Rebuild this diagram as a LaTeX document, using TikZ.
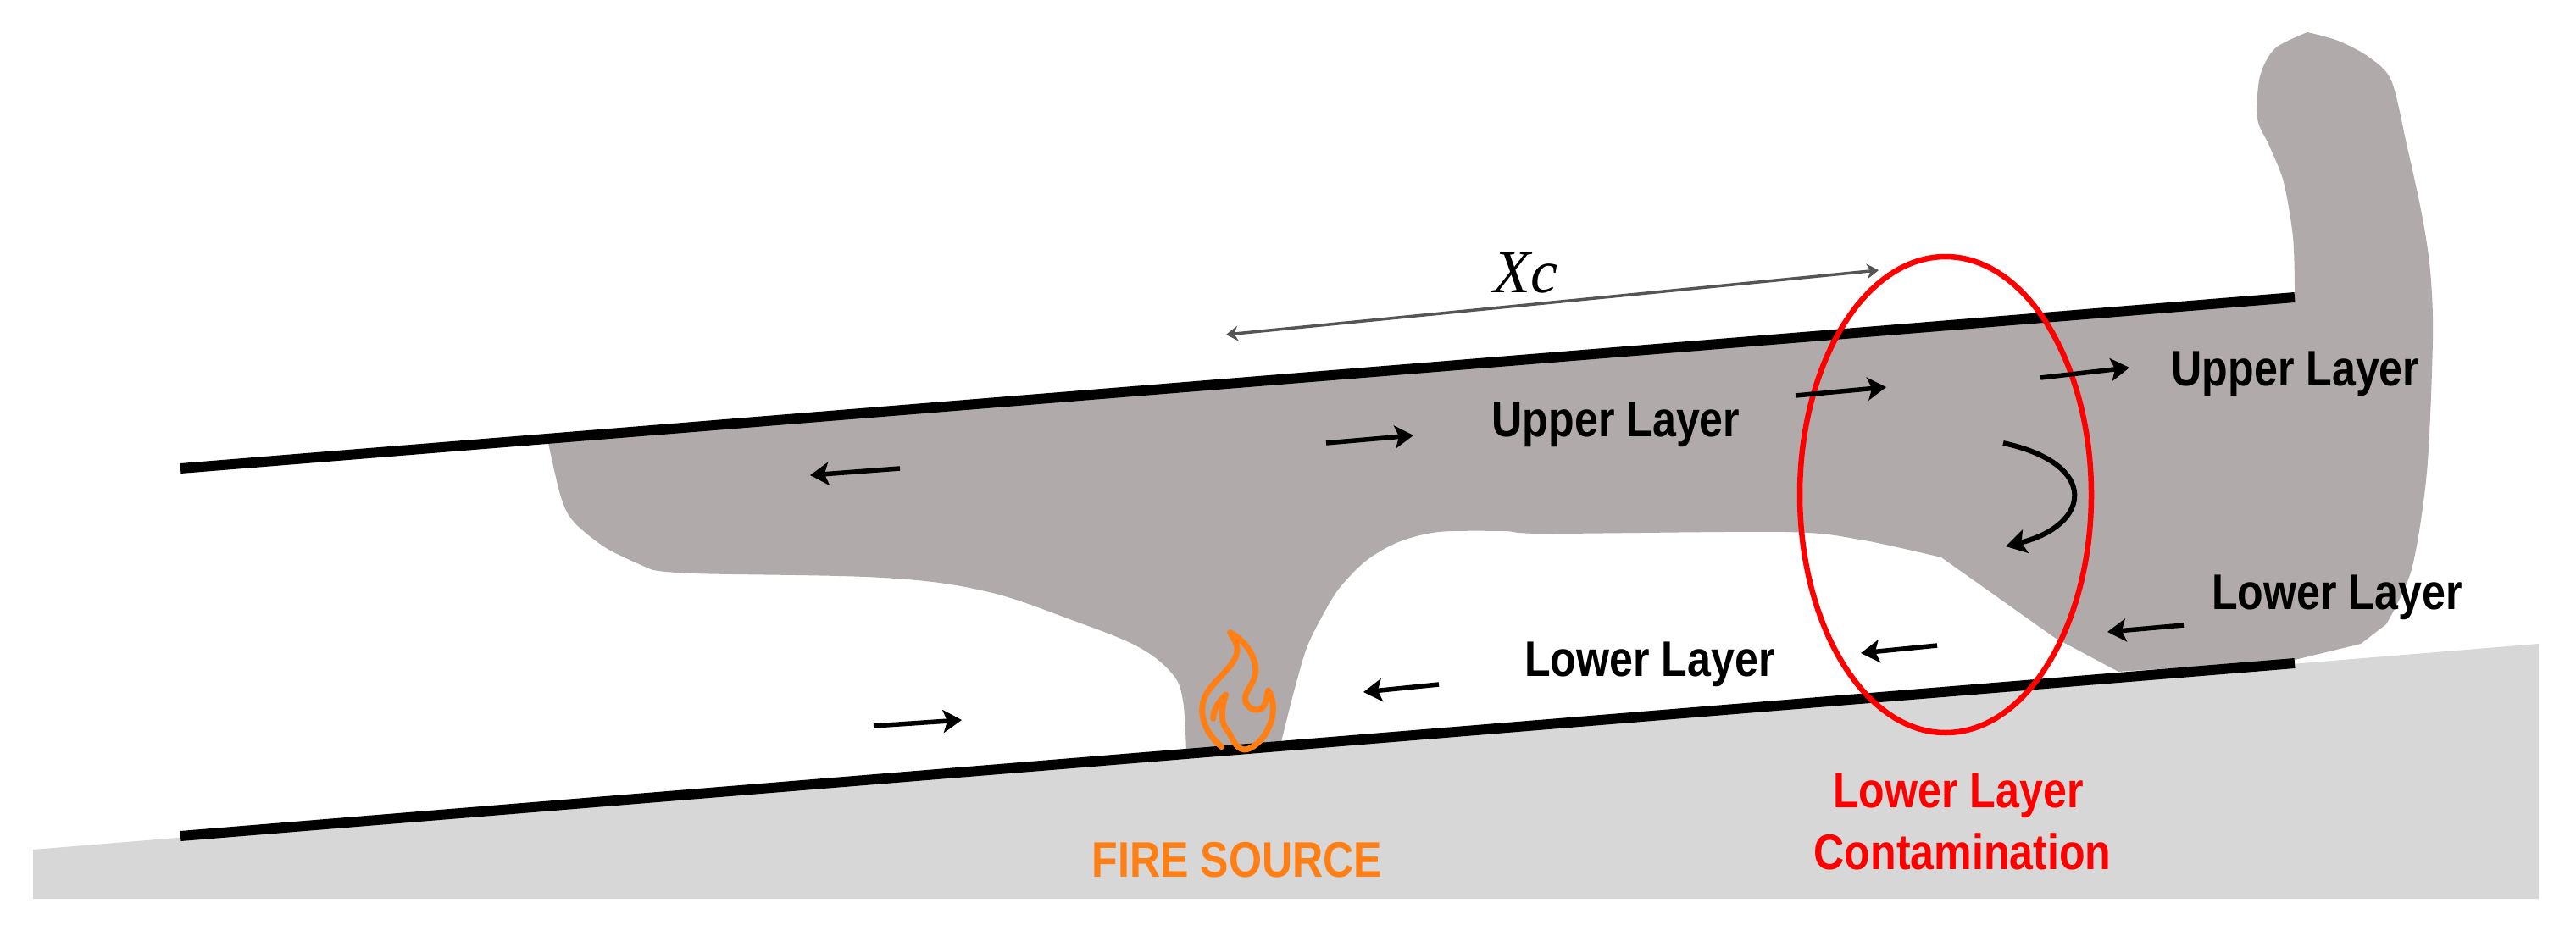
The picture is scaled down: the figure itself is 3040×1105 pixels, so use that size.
\documentclass[tikz,border=0pt]{standalone}
\usepackage{fontspec}
\setmainfont{Liberation Sans}
\newfontfamily\labfont[FakeStretch=0.85]{Liberation Sans}
\newfontfamily\xcfont{Liberation Serif}
\usetikzlibrary{arrows.meta}
\definecolor{smoke}{HTML}{B1AAAA}
\definecolor{ground}{HTML}{D7D7D7}
\definecolor{fireorange}{HTML}{FF7F14}
\definecolor{dimgray}{HTML}{555555}
\tikzset{
  wall/.style={line width=12pt,black},
  flow/.style={line width=5.5pt,black,-{Stealth[length=22pt,width=27pt,inset=5pt]}},
  lab/.style={font=\fontsize{59}{66}\selectfont\labfont\bfseries,text=black,inner sep=0pt,anchor=base},
  redlab/.style={lab,text=red},
  firelab/.style={lab,text=fireorange},
  flame/.style={draw=fireorange,line width=7pt,line join=round,line cap=round}
}
\begin{document}
\begin{tikzpicture}[x=1pt,y=-1pt]
\useasboundingbox (0,0) rectangle (3040,1105);
% ground
\fill[ground] (39,1003) -- (2996,760) -- (2996,1061) -- (39,1061) -- cycle;
% smoke
\fill[smoke] (646,518) -- (2708,352) -- (2708,340)
  -- plot[smooth,tension=.5] coordinates {(2708,340) (2706,280) (2695,215) (2678,172) (2664,140) (2667,90) (2685,57) (2723,38)}
  -- plot[smooth,tension=.5] coordinates {(2723,38) (2759,48) (2795,67) (2822,95) (2840,170) (2858,253) (2868,320) (2871,400) (2864,557) (2846,672) (2816,737)}
  -- (2786,760) -- (2708,779) -- (2500,793)
  -- (2425,753) -- (2291,658)
  -- plot[smooth,tension=.5] coordinates {(2291,658) (2195,637) (2106,628) (1825,630) (1774,627) (1698,628) (1650,640) (1612,662) (1580,695) (1560,728) (1542,765) (1526,820) (1511,880)}
  -- (1400,890)
  -- plot[smooth,tension=.6] coordinates {(1400,890) (1396,827) (1383,795) (1342,763) (1265,732) (1163,698) (1042,682) (819,677) (768,672)}
  -- plot[smooth,tension=.5] coordinates {(768,672) (717,648) (678,617) (662,587) (646,518)}
  -- cycle;
% walls
\draw[wall] (213,553) -- (2708,351);
\draw[wall] (213,987) -- (2708,783);
% contamination ellipse
\draw[red,line width=6.5pt] (2296,584) ellipse [x radius=172,y radius=281];
% dimension
\draw[dimgray,line width=3.5pt,{Stealth[length=14pt,width=18pt]}-{Stealth[length=14pt,width=18pt]}] (1447,395) -- (2217,319);
\node[font=\fontsize{72}{80}\selectfont\xcfont\itshape,text=black,inner sep=0pt] (xc) at (1800,322) {Xc};
% flow arrows
\draw[flow] (1062,553) -- (956,561);
\draw[flow] (1565,523) -- (1668,514);
\draw[flow] (2119,467) -- (2226,457);
\draw[flow] (2408,446) -- (2513,434);
\draw[flow] (2577,738) -- (2487,746);
\draw[flow] (2286,762) -- (2196,771);
\draw[flow] (1698,808) -- (1609,817);
\draw[flow] (1031,857) -- (1135,850);
\draw[line width=6pt,black,-{Stealth[length=24pt,width=28pt,inset=5pt]}] (2364,523) .. controls (2479,548) and (2467,620) .. (2367,645);
% labels
\node[lab] (ul1) at (1907,515) {Upper Layer};
\node[lab] (ul2) at (2709,455) {Upper Layer};
\node[lab] (ll1) at (1947,798) {Lower Layer};
\node[lab] (ll2) at (2758,719) {Lower Layer};
\node[redlab] (rl1) at (2311,953) {Lower Layer};
\node[redlab] (rl2) at (2316,1026) {Contamination};
\node[firelab] (fs) at (1460,1035) {FIRE SOURCE};
% flame
\begin{scope}[shift={(1300,720)},x=.3333pt,y=-.3333pt]
\draw[flame] (425,485) .. controls (370,440) and (340,370) .. (365,310)
  .. controls (390,250) and (480,200) .. (480,140)
  .. controls (480,115) and (465,100) .. (455,80)
  .. controls (510,110) and (550,170) .. (545,220)
  .. controls (540,270) and (500,290) .. (510,325)
  .. controls (520,355) and (560,365) .. (575,340)
  .. controls (585,320) and (585,300) .. (590,285)
  .. controls (615,320) and (610,385) .. (590,420)
  .. controls (570,465) and (530,495) .. (505,495)
  .. controls (470,490) and (465,450) .. (440,420)
  .. controls (420,395) and (425,340) .. (440,300)
  .. controls (420,320) and (395,350) .. (395,385);
\end{scope}
\end{tikzpicture}
\end{document}
